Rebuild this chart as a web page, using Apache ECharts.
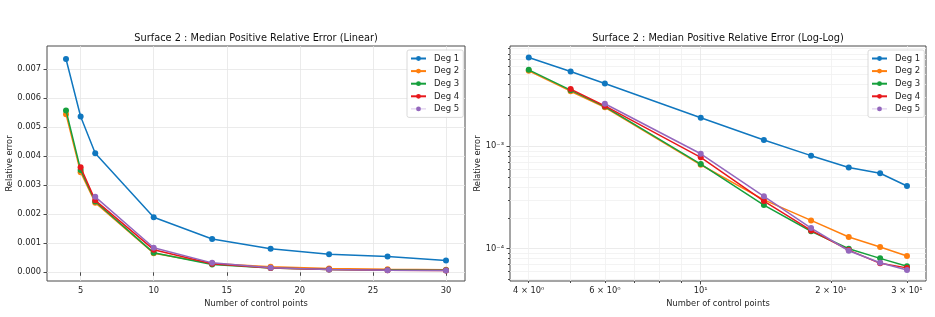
<!DOCTYPE html>
<html>
<head>
<meta charset="utf-8">
<script src="https://cdn.jsdelivr.net/npm/echarts@6/dist/echarts.min.js"></script>
<style>html,body{margin:0;padding:0;background:#fff;}#c{width:935px;height:317px;}</style>
</head>
<body>
<div id="c"></div>
<script>
// ---- data ----
const xValues = [4, 5, 6, 10, 14, 18, 22, 26, 30];
const seriesNames = ['Deg 1', 'Deg 2', 'Deg 3', 'Deg 4', 'Deg 5'];
const deg1 = [7.35e-3, 5.37e-3, 4.10e-3, 1.90e-3, 1.15e-3, 0.81e-3, 0.62e-3, 0.545e-3, 0.41e-3];
const deg2 = [5.45e-3, 3.45e-3, 2.40e-3, 0.66e-3, 0.30e-3, 0.189e-3, 0.130e-3, 0.104e-3, 0.085e-3];
const deg3 = [5.58e-3, 3.53e-3, 2.44e-3, 0.67e-3, 0.267e-3, 0.148e-3, 0.100e-3, 0.0805e-3, 0.0673e-3];
const deg4 = [null, 3.62e-3, 2.48e-3, 0.78e-3, 0.292e-3, 0.151e-3, 0.097e-3, 0.072e-3, 0.065e-3];
const deg5 = [null, null, 2.60e-3, 0.845e-3, 0.325e-3, 0.159e-3, 0.0955e-3, 0.073e-3, 0.062e-3];

const linXTicks = [5, 10, 15, 20, 25, 30];
const linYTicks = [0, 0.001, 0.002, 0.003, 0.004, 0.005, 0.006, 0.007];
const linYTickLabels = ['0.000', '0.001', '0.002', '0.003', '0.004', '0.005', '0.006', '0.007'];

const logXMajorTicks = [10];
const logXMinorTicks = [4, 5, 6, 7, 8, 9, 20, 30];
const logXTickValues = [4, 6, 10, 20, 30];
const logXTickLabels = ['4 × 10⁰', '6 × 10⁰', '10¹', '2 × 10¹', '3 × 10¹'];
const logYMajorTicks = [1e-4, 1e-3];
const logYMinorTicks = [5e-5, 6e-5, 7e-5, 8e-5, 9e-5, 2e-4, 3e-4, 4e-4, 5e-4, 6e-4, 7e-4, 8e-4, 9e-4,
                        2e-3, 3e-3, 4e-3, 5e-3, 6e-3, 7e-3, 8e-3, 9e-3];
const logYTickLabels = ['10⁻⁴', '10⁻³'];

// ---- styling ----
const colors = ['#1077bf', '#ff7f0e', '#16a03c', '#e8181c', '#9467bd'];
const font = 'DejaVu Sans';
const txt = '#262626';
const frame = '#4a4a4a';
const gridCol = '#e6e6e6';
const minorGridCol = '#f0f0f0';

const allDeg = [deg1, deg2, deg3, deg4, deg5];
function pairs(arr) {
  const out = [];
  arr.forEach((v, i) => { if (v !== null) out.push([xValues[i], v]); });
  return out;
}
function findLabel(vals, labels, v) {
  for (let i = 0; i < vals.length; i++) {
    if (Math.abs(vals[i] - v) <= Math.abs(vals[i]) * 1e-6) return labels[i];
  }
  return '';
}

const grids = [
  { left: 47, top: 46, width: 418, height: 235, show: true, borderColor: frame, borderWidth: 1, backgroundColor: 'transparent' },
  { left: 510, top: 46, width: 416, height: 235, show: true, borderColor: frame, borderWidth: 1, backgroundColor: 'transparent' }
];

const labelStyle = { fontFamily: font, fontSize: 8.3, color: txt };
const nameStyle = { fontFamily: font, fontSize: 8.3, color: txt };

const xAxes = [
  {
    gridIndex: 0, type: 'value', min: 2.7, max: 31.3, position: 'bottom',
    axisLine: { show: false },
    axisTick: { show: true, length: 3.5, lineStyle: { color: frame }, customValues: linXTicks },
    axisLabel: Object.assign({ margin: 6, customValues: linXTicks, formatter: v => String(v) }, labelStyle),
    splitLine: { show: true, lineStyle: { color: gridCol, width: 0.8 } },
    name: 'Number of control points', nameLocation: 'middle', nameGap: 18, nameTextStyle: nameStyle
  },
  {
    gridIndex: 1, type: 'log', logBase: 10, min: 3.62, max: 33.2, position: 'bottom',
    axisLine: { show: false },
    axisTick: { show: true, length: 2, lineStyle: { color: frame }, customValues: logXMinorTicks },
    axisLabel: { show: false },
    splitLine: { show: true, lineStyle: { color: minorGridCol, width: 0.8 } }
  },
  {
    gridIndex: 1, type: 'log', logBase: 10, min: 3.62, max: 33.2, position: 'bottom',
    axisLine: { show: false },
    axisTick: { show: true, length: 3.5, lineStyle: { color: frame }, customValues: logXMajorTicks },
    axisLabel: Object.assign({ margin: 6, customValues: logXTickValues,
      formatter: v => findLabel(logXTickValues, logXTickLabels, v) }, labelStyle),
    splitLine: { show: true, lineStyle: { color: gridCol, width: 0.8 } },
    name: 'Number of control points', nameLocation: 'middle', nameGap: 18, nameTextStyle: nameStyle
  }
];

const yAxes = [
  {
    gridIndex: 0, type: 'value', min: -0.0003, max: 0.0078, position: 'left',
    axisLine: { show: false },
    axisTick: { show: true, length: 3.5, lineStyle: { color: frame }, customValues: linYTicks },
    axisLabel: Object.assign({ margin: 6, customValues: linYTicks,
      formatter: v => findLabel(linYTicks, linYTickLabels, v) || (Math.abs(v) < 1e-12 ? '0.000' : '') }, labelStyle),
    splitLine: { show: true, lineStyle: { color: gridCol, width: 0.8 } },
    name: 'Relative error', nameLocation: 'middle', nameGap: 29, nameTextStyle: nameStyle
  },
  {
    gridIndex: 1, type: 'log', logBase: 10, min: 4.84e-5, max: 9.53e-3, position: 'left',
    axisLine: { show: false },
    axisTick: { show: true, length: 2, lineStyle: { color: frame }, customValues: logYMinorTicks },
    axisLabel: { show: false },
    splitLine: { show: true, lineStyle: { color: minorGridCol, width: 0.8 } }
  },
  {
    gridIndex: 1, type: 'log', logBase: 10, min: 4.84e-5, max: 9.53e-3, position: 'left',
    axisLine: { show: false },
    axisTick: { show: true, length: 3.5, lineStyle: { color: frame }, customValues: logYMajorTicks },
    axisLabel: Object.assign({ margin: 6, customValues: logYMajorTicks,
      formatter: v => findLabel(logYMajorTicks, logYTickLabels, v) }, labelStyle),
    splitLine: { show: true, lineStyle: { color: gridCol, width: 0.8 } },
    name: 'Relative error', nameLocation: 'middle', nameGap: 24, nameTextStyle: nameStyle
  }
];

const series = [];
allDeg.forEach((arr, i) => {
  const base = {
    name: seriesNames[i], type: 'line', symbol: 'circle', symbolSize: 6, showSymbol: true,
    itemStyle: { color: colors[i] },
    lineStyle: { color: colors[i], width: 1.5 },
    emphasis: { disabled: true }, silent: true, z: 2 + i
  };
  series.push(Object.assign({}, base, { xAxisIndex: 0, yAxisIndex: 0, data: pairs(arr) }));
  series.push(Object.assign({}, base, { xAxisIndex: 2, yAxisIndex: 2, data: pairs(arr) }));
});

function legendData() {
  return seriesNames.map((n, i) => i === 4
    ? { name: n, lineStyle: { color: '#d9c8ea', width: 1 } }
    : { name: n });
}
const legendCommon = {
  orient: 'vertical', itemWidth: 15, itemHeight: 6, itemGap: 3.6,
  padding: [4, 4, 4, 3], borderColor: '#d0d0d0', borderWidth: 0.8, borderRadius: 2,
  backgroundColor: 'rgba(255,255,255,0.85)',
  textStyle: { fontFamily: font, fontSize: 8.5, color: txt, padding: [0, 0, 0, 3] },
  selectedMode: false
};

const option = {
  animation: false,
  backgroundColor: '#ffffff',
  title: [
    { text: 'Surface 2 : Median Positive Relative Error (Linear)', left: 256, top: 33, textAlign: 'center', padding: 0,
      textStyle: { fontFamily: font, fontSize: 9.8, fontWeight: 'normal', color: '#111' } },
    { text: 'Surface 2 : Median Positive Relative Error (Log-Log)', left: 718, top: 33, textAlign: 'center', padding: 0,
      textStyle: { fontFamily: font, fontSize: 9.8, fontWeight: 'normal', color: '#111' } }
  ],
  legend: [
    Object.assign({ left: 407, top: 50, data: legendData() }, legendCommon),
    Object.assign({ left: 868, top: 50, data: legendData() }, legendCommon)
  ],
  grid: grids,
  xAxis: xAxes,
  yAxis: yAxes,
  series: series
};

const chart = echarts.init(document.getElementById('c'), null, { renderer: 'canvas' });
chart.setOption(option);
</script>
</body>
</html>
